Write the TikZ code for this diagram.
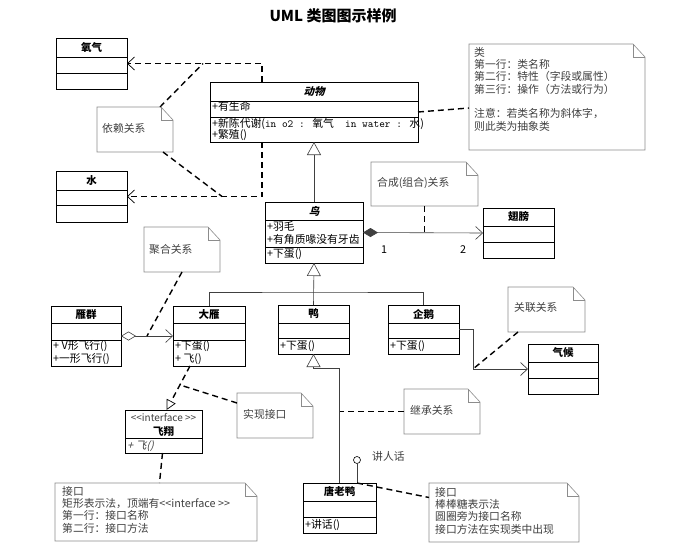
\documentclass[tikz,border=0pt]{standalone}
\usepackage{fontspec}
\setmainfont{Noto Sans CJK SC}
\newfontfamily\cjkslant{Noto Sans CJK SC}[FakeSlant=0.25]
\usepackage{tikz}
\usetikzlibrary{calc}
\usetikzlibrary{arrows.meta}
\tikzset{
  classbox/.style={draw=black, line width=0.8pt, inner sep=0pt, outer sep=0pt},
  classline/.style={draw=black, line width=0.8pt},
  notebox/.style={inner sep=0pt, outer sep=0pt},
  notefold/.style={draw=black!45, line width=0.6pt},
  cname/.style={font=\fontsize{10.5}{12}\selectfont\bfseries, inner sep=0pt},
  ctext/.style={font=\fontsize{10.8}{12}\selectfont, anchor=west, inner sep=0pt},
  ntext/.style={font=\fontsize{10.8}{12.3}\selectfont, text=black!75, anchor=north west, align=left, inner sep=0pt},
  line/.style={line width=0.6pt, draw=black!75},
  thickdash/.style={line width=1.4pt, dash pattern=on 6pt off 4pt},
  opentip/.style={-{Straight Barb[length=7pt,width=13pt,line width=0.7pt]}},
  dependency/.style={thickdash, opentip},
  inherit/.style={line, -{Triangle[fill=white, length=13pt, width=14pt]}},
  realize/.style={thickdash, -{Triangle[fill=white, length=10pt, width=10pt, line width=0.7pt]}},
  compose/.style={line, {Diamond[length=15pt, width=9pt]}-{Straight Barb[length=7pt,width=13pt]}},
  aggregate/.style={line, {Diamond[fill=white, length=15pt, width=9pt]}-{Straight Barb[length=7pt,width=13pt]}},
  assoc/.style={line, opentip}
}
% class box: name, x1, y1, x2, y2, first divider, second divider, title
\newcommand{\umlclass}[8]{%
  \node[classbox, anchor=north west, minimum width={(#4-#2)*1pt}, minimum height={(#5-#3)*1pt}] (#1) at (#2,#3) {};
  \draw[classline] (#2,#6) -- (#4,#6) (#2,#7) -- (#4,#7);
  \node[cname] (#1-name) at ({(#2+#4)/2},{(#3+#6)/2}) {#8};
}
% note with folded corner: name, x1, y1, x2, y2
\newcommand{\umlnote}[5]{%
  \node[notebox, anchor=north west, minimum width={(#4-#2)*1pt}, minimum height={(#5-#3)*1pt}] (#1) at (#2,#3) {};
  \draw[notefold] (#2,#3) -- ({#4-12},#3) -- (#4,{#3+13}) -- (#4,#5) -- (#2,#5) -- cycle;
  \draw[notefold] ({#4-12},#3) -- ({#4-12},{#3+13}) -- (#4,{#3+13});
}

\begin{document}
\begin{tikzpicture}[x=1pt, y=-1pt]
\useasboundingbox[fill=white] (0,0) rectangle (693,552);

\node[font=\fontsize{15}{18}\selectfont\bfseries] (title) at (333,16) {UML 类图图示样例};

% classes
\umlclass{oxygen}{56}{38}{127}{89}{57}{73}{氧气}
\umlclass{water}{56}{171}{127}{222}{190}{205}{水}
\umlclass{animal}{210}{82}{418}{142}{101}{117}{\cjkslant\bfseries 动物}
\node[ctext] (animal-a1) at (212,106) {+有生命};
\node[ctext] (animal-o1) at (212,124) {+新陈代谢({\ttfamily in o2 : }氧气{\ttfamily\ \ in water : }水)};
\node[ctext] (animal-o2) at (212,135) {+繁殖()};

\umlclass{bird}{265}{202}{363}{263}{220}{247}{\cjkslant\bfseries 鸟}
\node[ctext] (bird-a1) at (267,226) {+羽毛};
\node[ctext] (bird-a2) at (267,239) {+有角质喙没有牙齿};
\node[ctext] (bird-o1) at (267,254) {+下蛋()};

\umlclass{wing}{483}{208}{554}{258}{226}{242}{翅膀}

\umlclass{flock}{51}{306}{121}{366}{323}{340}{雁群}
\node[ctext] (flock-o1) at (53,346) {+ V形飞行()};
\node[ctext] (flock-o2) at (53,359) {+一形飞行()};

\umlclass{goose}{173}{306}{245}{366}{323}{340}{大雁}
\node[ctext] (goose-o1) at (175,346) {+下蛋()};
\node[ctext] (goose-o2) at (175,359) {+ 飞()};

\umlclass{duck}{278}{305}{349}{354}{323}{338}{鸭}
\node[ctext] (duck-o1) at (280,346) {+下蛋()};

\umlclass{penguin}{388}{305}{459}{354}{323}{338}{企鹅}
\node[ctext] (penguin-o1) at (390,346) {+下蛋()};

\umlclass{climate}{528}{344}{598}{394}{362}{378}{气候}

\umlclass{fly}{125}{410}{202}{453}{438}{438}{}
\node[font=\fontsize{10}{11}\selectfont, text=black!75, inner sep=0pt] (fly-stereo) at (163.5,418) {{<}{<}interface {>}{>}};
\node[cname] (fly-name) at (163.5,431) {飞翔};
\node[ctext, font=\fontsize{10.8}{12}\selectfont\cjkslant, text=black!75] (fly-o1) at (127,446) {+ 飞()};

\umlclass{donald}{303}{483}{376}{533}{501}{517}{唐老鸭}
\node[ctext] (donald-o1) at (305,525) {+讲话()};

% notes
\umlnote{depnote}{97}{107}{173}{152}
\node[ntext] (depnote-t) at (102,123) {依赖关系};
\umlnote{classnote}{469}{44}{645}{150}
\node[ntext] (classnote-t) at (474,47) {类\\第一行：类名称\\第二行：特性（字段或属性）\\第三行：操作（方法或行为）\\[12.3pt]注意：若类名称为斜体字，\\则此类为抽象类};
\umlnote{compnote}{371}{162}{478}{206}
\node[ntext] (compnote-t) at (377,177) {合成(组合)关系};
\umlnote{aggnote}{144}{227}{220}{272}
\node[ntext] (aggnote-t) at (149,244) {聚合关系};
\umlnote{assocnote}{508}{287}{585}{332}
\node[ntext] (assocnote-t) at (514,302) {关联关系};
\umlnote{realnote}{237}{393}{313}{438}
\node[ntext] (realnote-t) at (243,409) {实现接口};
\umlnote{inhnote}{404}{389}{480}{434}
\node[ntext] (inhnote-t) at (410,405) {继承关系};
\umlnote{ifnote}{55}{483}{257}{541}
\node[ntext] (ifnote-t) at (62,486) {接口\\矩形表示法，顶端有{<}{<}interface {>}{>}\\第一行：接口名称\\第二行：接口方法};
\umlnote{lolnote}{429}{483}{579}{542}
\node[ntext] (lolnote-t) at (435,487) {接口\\棒棒糖表示法\\圆圈旁为接口名称\\接口方法在实现类中出现};

% dependency
\draw[dependency] ([xshift=52pt]animal.north west) |- (oxygen.east);
\draw[dependency] ([xshift=52pt]animal.south west) |- (water.east);
\draw[thickdash] ([xshift=-13pt]depnote.north east) -- ($(oxygen.east)+(76,0)$);
\draw[thickdash] ([xshift=-10pt]depnote.south east) -- ($(water.east)+(95,0)$);
\draw[thickdash] (animal.east) -- ([yshift=-11pt]classnote.west);

% generalization
\draw[inherit] (bird.north) -- (animal.south);
\coordinate (gen) at (313.5,292);
\draw[line] (goose.north) |- (gen) -| (penguin.north);
\draw[inherit] (duck.north) -- (bird.south);
\draw[inherit] (donald.north) |- ($(duck.south)+(0,14)$) -- (duck.south);
\draw[thickdash] (inhnote.west) -- (inhnote.west -| donald.north);

% composition
\draw[compose] (bird.east) -- (wing.west);
\node[ctext] (one) at (381,250) {1};
\node[ctext] (two) at (460,250) {2};
\draw[thickdash] (compnote.south) -- (compnote.south |- wing.west);

% aggregation
\draw[aggregate] (flock.east) -- (goose.west);
\draw[thickdash] (aggnote.south) -- ($(flock.east)+(26,0)$);

% association
\draw[assoc] (penguin.east) -- ++(14,0) coordinate (acorner) |- (climate.west);
\draw[thickdash] ([xshift=10pt]assocnote.south west) -- (acorner |- climate.west);

% realization
\coordinate (rstart) at ([xshift=-19pt]goose.south);
\coordinate (rend) at ([xshift=3pt]fly.north);
\draw[realize] (rstart) -- (rend);
\draw[thickdash] ([yshift=-10pt]realnote.north west) -- ($(rstart)!.43!(rend)$);
\draw[thickdash] ([xshift=-1pt]fly.south) -- ([xshift=-4pt]fly.south |- ifnote.north);

% lollipop
\node[draw, circle, line width=0.6pt, minimum size=7pt, inner sep=0pt] (talk) at (357,460) {};
\node[ctext, text=black!75] (talk-t) at (372,456) {讲人话};
\draw[line] (talk) -- (talk |- donald.north);
\draw[thickdash] (talk |- donald.north) -- ([yshift=15pt]lolnote.west);
\end{tikzpicture}
\end{document}
